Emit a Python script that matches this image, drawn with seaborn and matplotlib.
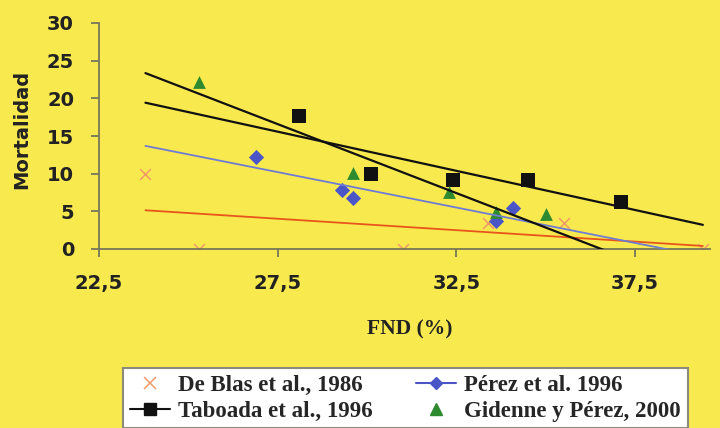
import numpy as np
import pandas as pd
import matplotlib
matplotlib.use("Agg")
import matplotlib.pyplot as plt
from matplotlib.lines import Line2D
import seaborn as sns

# Data (FND % vs mortality)
deblas_x = [23.8, 25.3, 31.0, 33.4, 35.5, 39.4]
deblas_y = [10.0, 0.0, 0.0, 3.5, 3.5, 0.0]

perez_x = [26.9, 29.3, 29.6, 33.6, 34.1]
perez_y = [12.2, 7.8, 6.8, 3.7, 5.5]

taboada_x = [28.1, 30.1, 32.4, 34.5, 37.1]
taboada_y = [17.7, 9.9, 9.2, 9.1, 6.3]

gidenne_x = [25.3, 29.6, 32.3, 33.6, 35.0]
gidenne_y = [22.2, 10.1, 7.6, 4.9, 4.6]

labels = ["De Blas et al., 1986", "Pérez et al. 1996",
          "Taboada et al., 1996", "Gidenne y Pérez, 2000"]
x_ticks = [22.5, 27.5, 32.5, 37.5]
x_tick_labels = ["22,5", "27,5", "32,5", "37,5"]
y_ticks = [0, 5, 10, 15, 20, 25, 30]

yellow = "#f8e94e"
orange_pt = "#f09a6a"
orange_ln = "#e8551c"
blue_pt = "#4a55c8"
blue_ln = "#6f7cd6"
green = "#2e8a2e"
black = "#111111"
axis_col = "#77765a"

sns.set_style("ticks")
plt.rcParams['font.family'] = ['DejaVu Sans']

fig = plt.figure(figsize=(7.2, 4.28), dpi=100, facecolor=yellow)
ax = fig.add_axes([99 / 720, 1 - 249 / 428, 611 / 720, 226 / 428])
ax.set_facecolor(yellow)

# scatter points
sns.scatterplot(x=deblas_x, y=deblas_y, marker="x", color=orange_pt, s=60,
                linewidth=1.1, ax=ax, zorder=2)
sns.scatterplot(x=perez_x, y=perez_y, marker="D", color=blue_pt, s=60,
                linewidth=0, ax=ax, zorder=2)
sns.scatterplot(x=taboada_x, y=taboada_y, marker="s", color=black, s=95,
                linewidth=0, ax=ax, zorder=2)
sns.scatterplot(x=gidenne_x, y=gidenne_y, marker="^", color=green, s=85,
                linewidth=0, ax=ax, zorder=2)

# linear trend lines over the full data range
all_x = deblas_x + perez_x + taboada_x + gidenne_x
xs = np.array([min(all_x), max(all_x)])
for sx, sy, col, lw in [(deblas_x, deblas_y, orange_ln, 1.3),
                        (perez_x, perez_y, blue_ln, 1.3),
                        (taboada_x, taboada_y, black, 1.6),
                        (gidenne_x, gidenne_y, black, 1.6)]:
    m, b = np.polyfit(sx, sy, 1)
    ax.plot(xs, m * xs + b, color=col, linewidth=lw, zorder=3)

ax.set_xlim(22.5, 39.6)
ax.set_ylim(0, 30)
ax.set_xticks(x_ticks)
ax.set_xticklabels(x_tick_labels)
ax.set_yticks(y_ticks)

for side in ["top", "right"]:
    ax.spines[side].set_visible(False)
for side in ["left", "bottom"]:
    ax.spines[side].set_color(axis_col)
    ax.spines[side].set_linewidth(1.3)
ax.tick_params(axis="both", direction="out", length=6, width=1.3,
               color=axis_col, labelsize=14, pad=12, labelcolor="#222222")
for t in ax.get_xticklabels() + ax.get_yticklabels():
    t.set_fontweight("bold")

ax.set_ylabel("Mortalidad", fontsize=14, fontweight="bold", color="#222222")
ax.yaxis.set_label_coords(-68 / 611, 0.53)
ax.set_xlabel("FND (%)", fontsize=15.5, fontweight="bold", color="#222222",
              family="Liberation Serif")
ax.xaxis.set_label_coords((410 - 99) / 611, -70 / 226)

handles = [
    Line2D([], [], marker="x", color=orange_pt, linestyle="None", markersize=8,
           markeredgewidth=1.1),
    Line2D([], [], marker="s", color=black, linewidth=1.5, markersize=8),
    Line2D([], [], marker="D", color=blue_pt, linewidth=1.5, markersize=6),
    Line2D([], [], marker="^", color=green, linestyle="None", markersize=8),
]
leg_labels = [labels[0], labels[2], labels[1], labels[3]]
leg = ax.legend(handles, leg_labels, ncol=2, loc="upper left",
                bbox_to_anchor=(123 / 720, 1 - 368 / 428),
                bbox_transform=fig.transFigure, borderaxespad=0,
                prop={"family": "Liberation Serif", "weight": "bold", "size": 16.5},
                frameon=True, fancybox=False, framealpha=1,
                handlelength=1.75, handletextpad=0.35, columnspacing=1.9,
                labelspacing=0.2, borderpad=0.3)
leg.get_frame().set_facecolor("white")
leg.get_frame().set_edgecolor("#8c8a78")
leg.get_frame().set_linewidth(1.5)

fig.savefig("out.png", dpi=100, facecolor=yellow)
